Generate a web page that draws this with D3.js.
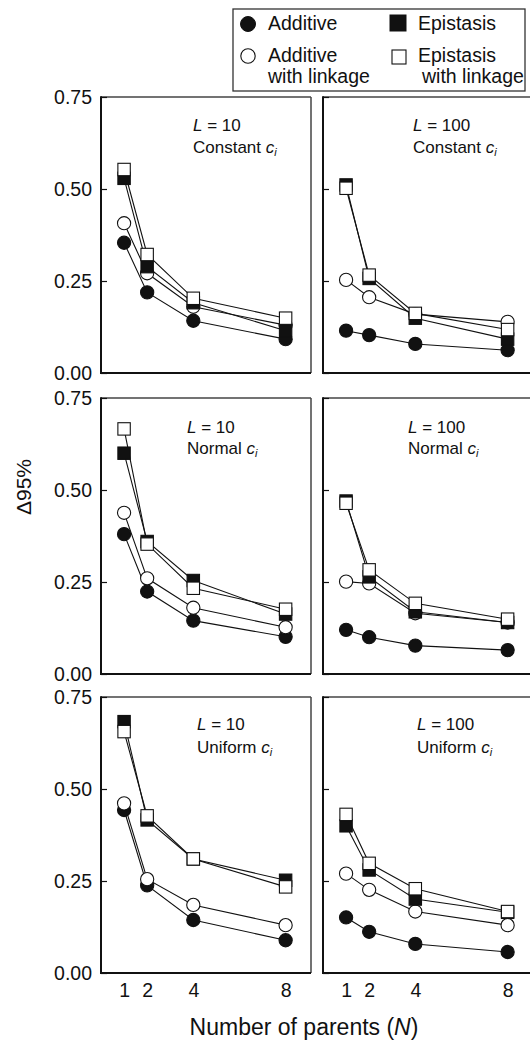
<!DOCTYPE html>
<html>
<head>
<meta charset="utf-8">
<script src="https://cdn.jsdelivr.net/npm/d3@7"></script>
<style>
  body { margin: 0; background: #fff; }
  svg { display: block; }
  text { font-family: "Liberation Sans", Arial, Helvetica, sans-serif; fill: #111; }
</style>
</head>
<body>
<svg id="chart" width="530" height="1041"></svg>
<script>
// ---------- data ----------
const parents = [1, 2, 4, 8];
const yTicks = [0, 0.25, 0.5, 0.75];
const seriesNames = ["Additive", "Additive with linkage", "Epistasis", "Epistasis with linkage"];
const panelL = ["10", "100", "10", "100", "10", "100"];
const panelDist = ["Constant", "Constant", "Normal", "Normal", "Uniform", "Uniform"];

// values per panel: [additive, additive w/ linkage, epistasis, epistasis w/ linkage]
const additive = [
  [0.354, 0.219, 0.142, 0.092],
  [0.115, 0.103, 0.079, 0.062],
  [0.380, 0.224, 0.145, 0.101],
  [0.120, 0.100, 0.077, 0.065],
  [0.443, 0.238, 0.144, 0.089],
  [0.151, 0.112, 0.079, 0.057]
];
const additiveLinkage = [
  [0.407, 0.271, 0.180, 0.130],
  [0.253, 0.206, 0.160, 0.139],
  [0.438, 0.260, 0.180, 0.127],
  [0.251, 0.246, 0.165, 0.140],
  [0.461, 0.255, 0.185, 0.130],
  [0.270, 0.226, 0.167, 0.130]
];
const epistasis = [
  [0.529, 0.289, 0.191, 0.115],
  [0.511, 0.257, 0.149, 0.092],
  [0.600, 0.360, 0.254, 0.163],
  [0.470, 0.264, 0.169, 0.140],
  [0.683, 0.416, 0.310, 0.252],
  [0.400, 0.280, 0.201, 0.165]
];
const epistasisLinkage = [
  [0.553, 0.322, 0.203, 0.149],
  [0.502, 0.266, 0.162, 0.118],
  [0.666, 0.353, 0.233, 0.176],
  [0.464, 0.283, 0.192, 0.149],
  [0.656, 0.427, 0.310, 0.234],
  [0.431, 0.298, 0.229, 0.167]
];

// ---------- layout ----------
const colX = [101, 323];
const rowY = [97, 398, 697];
const pw = 210, ph = 276;
const labelOffsets = [[92, 34, 56], [90, 34, 56], [86, 35, 56], [85, 35, 56], [96, 33, 56], [94, 33, 56]];
const FONT = '"Liberation Sans", Arial, Helvetica, sans-serif';

const svg = d3.select("#chart");

const seriesData = [additive, additiveLinkage, epistasis, epistasisLinkage];
const markerStyle = [
  { shape: "circle", fill: "#111" },
  { shape: "circle", fill: "#fff" },
  { shape: "square", fill: "#111" },
  { shape: "square", fill: "#fff" }
];

for (let p = 0; p < 6; p++) {
  const col = p % 2, row = Math.floor(p / 2);
  const x0 = colX[col], y0 = rowY[row];
  const x = d3.scaleLinear().domain([0, 9.1]).range([x0, x0 + pw]);
  const y = d3.scaleLinear().domain([0, 0.75]).range([y0 + ph, y0]);
  const g = svg.append("g");

  // frame: top & right thinner
  g.append("line").attr("x1", x0).attr("x2", x0 + pw).attr("y1", y0).attr("y2", y0)
    .attr("stroke", "#444").attr("stroke-width", 1.5);
  g.append("line").attr("x1", x0 + pw).attr("x2", x0 + pw).attr("y1", y0).attr("y2", y0 + ph)
    .attr("stroke", "#444").attr("stroke-width", 1.5);

  // y axis
  const ya = d3.axisLeft(y).tickValues(yTicks).tickSize(-6).tickPadding(9)
    .tickFormat(col === 0 ? d3.format(".2f") : () => "");
  const yg = g.append("g").attr("transform", `translate(${x0},0)`).call(ya);
  yg.select(".domain").remove();
  yg.selectAll(".tick line").attr("stroke", "#111").attr("stroke-width", 1.2);
  yg.selectAll("text").attr("font-size", 19.5).attr("font-family", FONT).attr("fill", "#111");

  // x axis (labels only on bottom row)
  if (row === 2) {
    const xa = d3.axisBottom(x).tickValues(parents).tickSize(0).tickPadding(10).tickFormat(d3.format("d"));
    const xg = g.append("g").attr("transform", `translate(0,${y0 + ph})`).call(xa);
    xg.select(".domain").remove();
    xg.selectAll("text").attr("font-size", 19.5).attr("font-family", FONT).attr("fill", "#111");
  }

  // left & bottom thick lines
  g.append("line").attr("x1", x0).attr("x2", x0).attr("y1", y0 - 0.75).attr("y2", y0 + ph + 1)
    .attr("stroke", "#111").attr("stroke-width", 2);
  g.append("line").attr("x1", x0).attr("x2", x0 + pw).attr("y1", y0 + ph).attr("y2", y0 + ph)
    .attr("stroke", "#111").attr("stroke-width", 2);

  // lines
  const line = d3.line().x((d, i) => x(parents[i])).y(d => y(d));
  seriesData.forEach(s => {
    g.append("path").attr("d", line(s[p])).attr("fill", "none")
      .attr("stroke", "#111").attr("stroke-width", 1.1);
  });

  // markers
  seriesData.forEach((s, si) => {
    const st = markerStyle[si];
    s[p].forEach((v, i) => {
      if (st.shape === "circle") {
        g.append("circle").attr("cx", x(parents[i])).attr("cy", y(v)).attr("r", 6.6)
          .attr("fill", st.fill).attr("stroke", "#111").attr("stroke-width", 1.1);
      } else {
        const s2 = 12.4;
        g.append("rect").attr("x", x(parents[i]) - s2 / 2).attr("y", y(v) - s2 / 2)
          .attr("width", s2).attr("height", s2)
          .attr("fill", st.fill).attr("stroke", "#111").attr("stroke-width", 1.1);
      }
    });
  });

  // panel labels
  const [lx, ly1, ly2] = labelOffsets[p];
  const t1 = g.append("text").attr("x", x0 + lx).attr("y", y0 + ly1).attr("font-size", 17);
  t1.append("tspan").attr("font-style", "italic").text("L");
  t1.append("tspan").text(" = " + panelL[p]);
  const t2 = g.append("text").attr("x", x0 + lx).attr("y", y0 + ly2).attr("font-size", 17);
  t2.append("tspan").text(panelDist[p] + " ");
  t2.append("tspan").attr("font-style", "italic").text("c");
  t2.append("tspan").attr("font-style", "italic").attr("font-size", 11).attr("dy", 3).text("i");
}

// ---------- axis titles ----------
const xt = svg.append("text").attr("x", 304).attr("y", 1035).attr("text-anchor", "middle")
  .attr("font-size", 23);
xt.append("tspan").text("Number of parents (");
xt.append("tspan").attr("font-style", "italic").text("N");
xt.append("tspan").text(")");

const yt = svg.append("text").attr("transform", "translate(31,487) rotate(-90)")
  .attr("text-anchor", "middle").attr("font-size", 21);
yt.append("tspan").text("Δ");
yt.append("tspan").text("95%");

// ---------- legend ----------
const lg = svg.append("g");
lg.append("rect").attr("x", 233).attr("y", 9).attr("width", 292).attr("height", 82)
  .attr("fill", "#fff").attr("stroke", "#333").attr("stroke-width", 1.3);
lg.append("circle").attr("cx", 248).attr("cy", 24).attr("r", 7.5).attr("fill", "#111").attr("stroke", "#111");
lg.append("circle").attr("cx", 248).attr("cy", 56).attr("r", 7.2).attr("fill", "#fff").attr("stroke", "#111").attr("stroke-width", 1.1);
lg.append("rect").attr("x", 390).attr("y", 15).attr("width", 16).attr("height", 16).attr("fill", "#111").attr("stroke", "#111");
lg.append("rect").attr("x", 392).attr("y", 50).attr("width", 14).attr("height", 14).attr("fill", "#fff").attr("stroke", "#111").attr("stroke-width", 1.1);
const legendText = [
  [268, 30, seriesNames[0]],
  [268, 62, "Additive"],
  [268, 83, "with linkage"],
  [418, 30, seriesNames[2]],
  [418, 62, "Epistasis"],
  [422, 83, "with linkage"]
];
legendText.forEach(([tx, ty, s]) => {
  lg.append("text").attr("x", tx).attr("y", ty).attr("font-size", 19.5).text(s);
});
</script>
</body>
</html>
